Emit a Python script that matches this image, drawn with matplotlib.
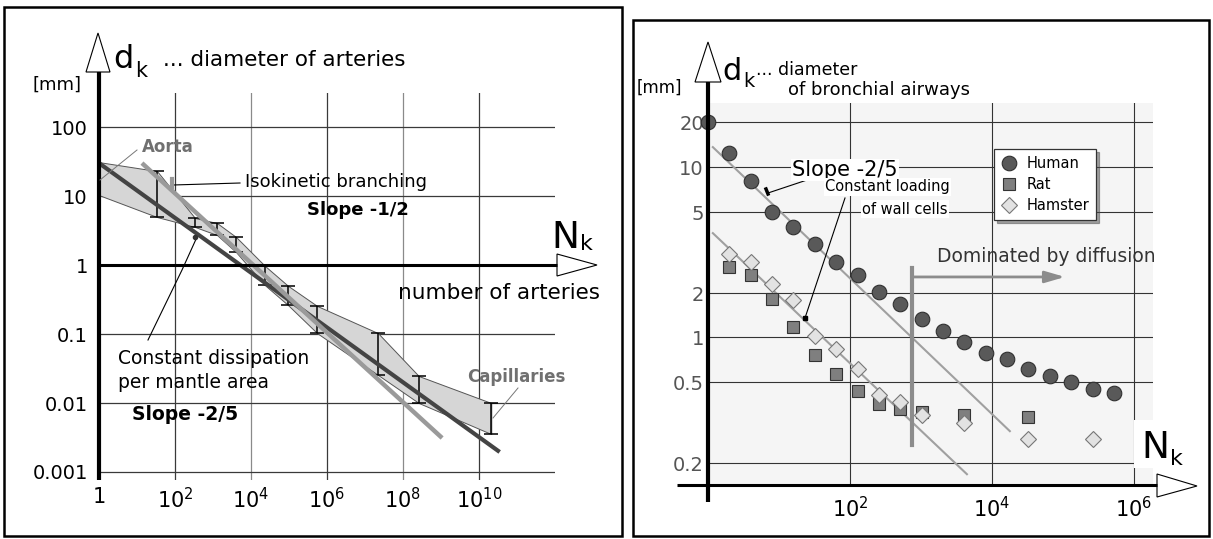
import numpy as np
import matplotlib
matplotlib.use('Agg')
import matplotlib.pyplot as plt
from matplotlib.patches import Polygon, Rectangle
from matplotlib import font_manager

W, H = 1213, 539

# ---- left panel: arteries (N = number of arteries, d = diameter in mm)
band_N = [1, 33.6, 336, 1274, 4030, 2.33e4, 9.4e4, 5.5e5, 2.2e7, 2.6e8, 2.1e10]
band_hi = [31, 23.0, 4.8, 4.06, 2.55, 0.97, 0.50, 0.255, 0.103, 0.0246, 0.010]
band_lo = [10.3, 4.96, 3.56, 2.72, 1.54, 0.51, 0.263, 0.103, 0.0255, 0.010, 0.00355]
dissip_N = [1, 3.5e10]          # constant dissipation, slope -2/5
dissip_d = [30, 0.00195]
iso_N = [13.5, 1.07e9]          # isokinetic branching, slope -1/2
iso_d = [30, 0.00311]
art_xticks = [1, 1e2, 1e4, 1e6, 1e8, 1e10]
art_xlabels = ['1', '$10^{2}$', '$10^{4}$', '$10^{6}$', '$10^{8}$', '$10^{10}$']
art_yticks = [0.001, 0.01, 0.1, 1, 10, 100]
art_ylabels = ['0.001', '0.01', '0.1', '1', '10', '100']

# ---- right panel: bronchial airways
human_N = [1, 2, 4, 8, 16, 32, 64, 128, 256, 512, 1024, 2048, 4096, 8192,
           16384, 32768, 65536, 131072, 262144, 524288]
human_d = [20, 12.4, 8.05, 5.0, 4.22, 3.48, 2.84, 2.45, 2.02, 1.68, 1.33, 1.10,
           0.93, 0.78, 0.71, 0.61, 0.55, 0.50, 0.46, 0.44]
rat_N = [2, 4, 8, 16, 32, 64, 128, 256, 512, 1024, 4096, 32768]
rat_d = [2.68, 2.45, 1.82, 1.17, 0.76, 0.57, 0.45, 0.39, 0.37, 0.356, 0.344, 0.337]
hamster_N = [2, 4, 8, 16, 32, 64, 128, 256, 512, 1024, 4096, 32768, 262144]
hamster_d = [3.11, 2.84, 2.21, 1.79, 1.02, 0.83, 0.61, 0.43, 0.40, 0.344, 0.315,
             0.262, 0.262]
human_fit_N = [1.17, 1.79e4]
human_fit_d = [13.6, 0.287]
small_fit_N = [1.17, 4450]
small_fit_d = [3.94, 0.172]
diff_N = 747
diff_d = [0.245, 2.65]
diff_arrow_N = [747, 1.07e5]
diff_arrow_d = 2.40
air_xticks = [1e2, 1e4, 1e6]
air_xlabels = ['$10^{2}$', '$10^{4}$', '$10^{6}$']
air_yticks = [0.2, 0.5, 1, 2, 5, 10, 20]
air_ylabels = ['0.2', '0.5', '1', '2', '5', '10', '20']

names = {f.name for f in font_manager.fontManager.ttflist}
narrow = 'Liberation Sans Narrow' if 'Liberation Sans Narrow' in names else 'DejaVu Sans'

fig = plt.figure(figsize=(W / 100, H / 100), dpi=100)


def px_axes(x0, y0, x1, y1):
    return fig.add_axes([x0 / W, 1 - y1 / H, (x1 - x0) / W, (y1 - y0) / H])


# ================= left axes
ax = px_axes(99, 93, 555, 480)
ax.set_xscale('log')
ax.set_yscale('log')
ax.set_xlim(1, 1e12)
ax.set_ylim(10 ** -3.116, 10 ** 2.493)
for s in ax.spines.values():
    s.set_visible(False)
ax.set_xticks(art_xticks, art_xlabels)
ax.set_yticks(art_yticks, art_ylabels)
ax.minorticks_off()
ax.tick_params(length=0, labelsize=14)
ax.tick_params(axis='y', pad=8)
ax.tick_params(axis='x', pad=5, labelsize=15)
ax.grid(True, color='#3a3a3a', lw=0.9)
for i, gl in enumerate(ax.get_xgridlines()):
    if i in (2, 4):
        gl.set_color('#8a8a8a')

ax.fill_between(band_N, band_lo, band_hi, facecolor='#d6d6d6', edgecolor='#555555',
                lw=0.7, zorder=2)
mid = np.sqrt(np.array(band_hi[1:]) * np.array(band_lo[1:]))
ax.errorbar(band_N[1:], mid, yerr=[mid - np.array(band_lo[1:]), np.array(band_hi[1:]) - mid],
            fmt='none', ecolor='black', elinewidth=1.1, capsize=5, capthick=1.1, zorder=3)
ax.plot(dissip_N, dissip_d, color='#444444', lw=3.0, solid_capstyle='butt', zorder=4)
ax.plot(iso_N, iso_d, color='#9a9a9a', lw=3.2, solid_capstyle='butt', zorder=5)

# ================= right axes
knot_v = np.log10([0.01, 0.2, 0.5, 1, 2, 5, 10, 20, 1000])
knot_p = np.array([-221.2, 0, 81, 126, 170, 251, 296, 341, 629.8])


def fwd(v):
    v = np.asarray(v, float)
    return np.interp(np.log10(np.clip(v, 1e-6, None)), knot_v, knot_p)


def inv(p):
    return 10 ** np.interp(np.asarray(p, float), knot_p, knot_v)


bx = px_axes(708, 103, 1153, 485)
bx.set_facecolor('#f5f5f5')
bx.set_xscale('log')
bx.set_yscale('function', functions=(fwd, inv))
bx.set_xlim(1, 10 ** 6.27)
bx.set_ylim(0.1486, 25.9)
for s in bx.spines.values():
    s.set_visible(False)
bx.set_xticks(air_xticks, air_xlabels)
bx.set_yticks(air_yticks, air_ylabels)
bx.minorticks_off()
bx.tick_params(length=0)
bx.tick_params(axis='y', pad=3, labelsize=14, labelcolor='#555555')
bx.tick_params(axis='x', pad=8, labelsize=15)
for lab in bx.get_yticklabels():
    lab.set_family(narrow)
bx.grid(True, color='#333333', lw=0.8)

bx.plot(human_fit_N, human_fit_d, color='#a0a0a0', lw=1.5, zorder=3)
bx.plot(small_fit_N, small_fit_d, color='#a0a0a0', lw=1.5, zorder=3)
bx.plot([diff_N, diff_N], diff_d, color='#8c8c8c', lw=3, zorder=4)
bx.annotate('', xy=(diff_arrow_N[1], diff_arrow_d), xytext=(diff_arrow_N[0], diff_arrow_d),
            arrowprops=dict(arrowstyle='-|>,head_length=1.2,head_width=0.35',
                            color='#8c8c8c', lw=2, shrinkA=0, shrinkB=0), zorder=4)
bx.plot(rat_N, rat_d, ls='none', marker='s', ms=9, mfc='#7f7f7f', mec='#333333',
        mew=0.8, label='Rat', zorder=5, clip_on=False)
bx.plot(hamster_N, hamster_d, ls='none', marker='D', ms=8.5, mfc='#e2e2e2', mec='#777777',
        mew=0.8, label='Hamster', zorder=6, clip_on=False)
bx.plot(human_N, human_d, ls='none', marker='o', ms=10.5, mfc='#595959', mec='#303030',
        mew=0.8, label='Human', zorder=7, clip_on=False)
h, l = bx.get_legend_handles_labels()
order = [2, 0, 1]
leg = bx.legend([h[i] for i in order], [l[i] for i in order], loc='upper left',
                bbox_to_anchor=(0.643, 0.880), borderaxespad=0, fancybox=False,
                shadow=True, framealpha=1, edgecolor='#333333', fontsize=10.5,
                handlelength=1.0, handletextpad=0.7, labelspacing=0.4, borderpad=0.5)
leg.get_frame().set_linewidth(0.9)
leg.set_zorder(10)

# ================= overlay for axes arrows, frames and labels (pixel coordinates)
ov = fig.add_axes([0, 0, 1, 1])
ov.set_xlim(0, W)
ov.set_ylim(H, 0)
ov.axis('off')
ov.patch.set_alpha(0)

ov.add_patch(Rectangle((4, 7), 618, 529, fill=False, lw=1.8, ec='black'))
ov.add_patch(Rectangle((633, 20), 576, 516, fill=False, lw=1.8, ec='black'))

# left axes lines and arrows
ov.plot([99, 99], [72, 480], color='black', lw=3, solid_capstyle='butt')
ov.plot([99, 557], [265, 265], color='black', lw=2.2, solid_capstyle='butt')
ov.add_patch(Polygon([[86, 72], [110, 72], [98, 33]], closed=True, fc='white', ec='black', lw=0.8))
ov.add_patch(Polygon([[557, 254], [557, 276], [597, 265]], closed=True, fc='white', ec='black', lw=0.8))
# right axes lines and arrows
ov.plot([708, 708], [82, 502], color='black', lw=3, solid_capstyle='butt')
ov.plot([677, 1157], [485, 485], color='black', lw=2.2, solid_capstyle='butt')
ov.add_patch(Polygon([[695, 82], [721, 82], [708, 42]], closed=True, fc='white', ec='black', lw=0.8))
ov.add_patch(Polygon([[1157, 474], [1157, 497], [1197, 486]], closed=True, fc='white', ec='black', lw=0.8))

# left titles
ov.text(113, 68, 'd', fontsize=23, va='baseline')
ov.text(135, 77, 'k', fontsize=15, va='baseline')
ov.text(163, 60, '... diameter of arteries', fontsize=15.5, va='center')
ov.text(32, 85, '[mm]', fontsize=13, va='center')
ov.text(551, 248, 'N', fontsize=27, va='baseline')
ov.text(580, 250, 'k', fontsize=16, va='baseline')
ov.text(398, 293, 'number of arteries', fontsize=15.5, va='center')

# left annotations
ov.text(168, 147, 'Aorta', fontsize=12, fontweight='bold', color='#707070', ha='center', va='center')
ov.plot([100, 137], [180, 150], color='#777777', lw=0.7)
ov.text(245, 182, 'Isokinetic branching', fontsize=13, va='center')
ov.plot([173, 240], [185, 183], color='black', lw=0.8)
ov.plot([172, 172], [179, 187], color='#999999', lw=3)
ov.text(307, 210, 'Slope -1/2', fontsize=13, fontweight='bold', va='center')
ov.text(118, 358, 'Constant dissipation', fontsize=13.5, va='center')
ov.text(118, 383, 'per mantle area', fontsize=13.5, va='center')
ov.text(132, 415, 'Slope -2/5', fontsize=13.5, fontweight='bold', va='center')
ov.plot([148, 182, 197], [340, 270, 237], color='black', lw=0.8)
ov.plot([195], [237], marker='o', ms=3, color='#333333')
ov.text(516, 377, 'Capillaries', fontsize=12, fontweight='bold', color='#707070', ha='center', va='center')
ov.plot([493, 518], [418, 388], color='#777777', lw=0.7)

# right titles
ov.text(722, 80, 'd', fontsize=22, va='baseline')
ov.text(743, 87, 'k', fontsize=14, va='baseline')
ov.text(756, 70, '... diameter', fontsize=12.5, va='center')
ov.text(788, 90, 'of bronchial airways', fontsize=13, va='center')
ov.text(637, 88, '[mm]', fontsize=12, va='center')
ov.add_patch(Rectangle((1134, 420), 58, 48, fc='white', ec='none'))
ov.text(1141, 458, 'N', fontsize=27, va='baseline')
ov.text(1170, 465, 'k', fontsize=16, va='baseline')

# right annotations
ov.text(792, 170, 'Slope -2/5', fontsize=15, va='center',
        bbox=dict(fc='white', ec='none', pad=1))
ov.plot([768, 813], [193, 178], color='black', lw=0.8)
ov.plot([766, 768], [189, 194], color='black', lw=2.5)
ov.text(950, 187, 'Constant loading', fontsize=10.5, ha='right', va='center',
        bbox=dict(fc='white', ec='none', pad=1))
ov.text(948, 209, 'of wall cells', fontsize=10.5, ha='right', va='center',
        bbox=dict(fc='white', ec='none', pad=1))
ov.plot([845, 805], [198, 318], color='black', lw=0.8)
ov.plot([805], [318], marker='s', ms=3, color='black')
ov.text(937, 257, 'Dominated by diffusion', fontsize=13.5, color='#333333', va='center')

fig.savefig('out.png', dpi=100)
